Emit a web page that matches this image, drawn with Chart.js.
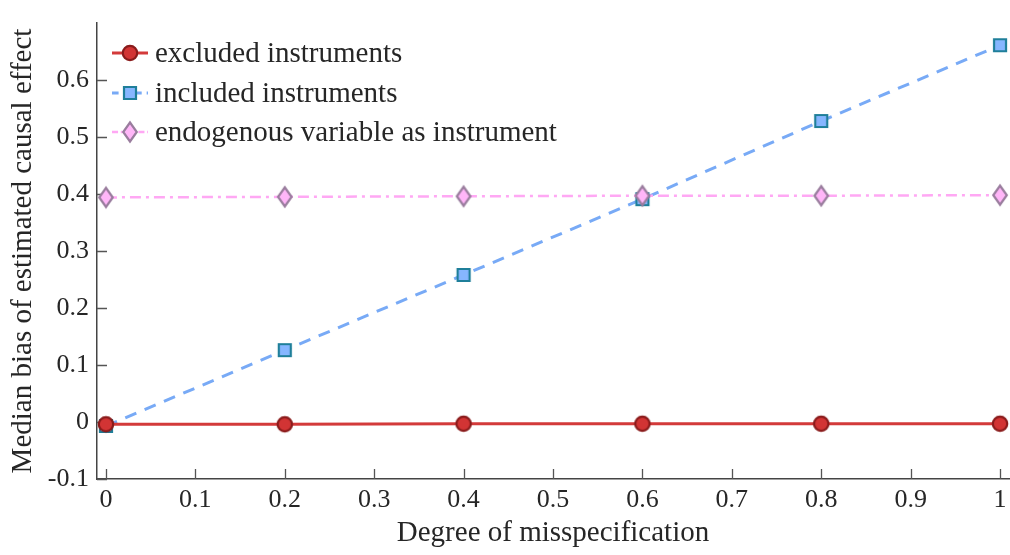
<!DOCTYPE html>
<html><head><meta charset="utf-8">
<script src="https://cdn.jsdelivr.net/npm/chart.js@4/dist/chart.umd.min.js"></script>
<style>html,body{margin:0;padding:0;background:#fff}#wrap{width:1010px;height:555px;position:relative}</style>
</head><body><div id="wrap"><canvas id="c" width="1010" height="555"></canvas></div>
<script>
// ---- data ----
const degrees = [0, 0.2, 0.4, 0.6, 0.8, 1];
const excludedBias = [-0.004, -0.004, -0.003, -0.003, -0.003, -0.003];
const includedBias = [-0.007, 0.126, 0.258, 0.391, 0.528, 0.661];
const endogenousBias = [0.394, 0.395, 0.396, 0.397, 0.397, 0.398];
const seriesNames = ['excluded instruments', 'included instruments', 'endogenous variable as instrument'];
const xTickValues = [0, 0.1, 0.2, 0.3, 0.4, 0.5, 0.6, 0.7, 0.8, 0.9, 1];
const xTickLabels = ['0', '0.1', '0.2', '0.3', '0.4', '0.5', '0.6', '0.7', '0.8', '0.9', '1'];
const yTickValues = [-0.1, 0, 0.1, 0.2, 0.3, 0.4, 0.5, 0.6];
const yTickLabels = ['-0.1', '0', '0.1', '0.2', '0.3', '0.4', '0.5', '0.6'];
const xTitle = 'Degree of misspecification';
const yTitle = 'Median bias of estimated causal effect';

const FONT = '"Liberation Serif", "Times New Roman", serif';
const TXT = '#262626';

function makeMarker(shape, fill, stroke) {
  const c = document.createElement('canvas');
  c.width = 26; c.height = 26;
  const g = c.getContext('2d');
  g.fillStyle = fill; g.strokeStyle = stroke; g.lineWidth = 2.2;
  g.beginPath();
  if (shape === 'circle') {
    g.arc(13, 13, 7.2, 0, Math.PI * 2);
  } else if (shape === 'square') {
    g.rect(7, 7, 12, 12);
  } else {
    g.moveTo(13, 3.5); g.lineTo(19.8, 13); g.lineTo(13, 22.5); g.lineTo(6.2, 13); g.closePath();
  }
  g.fill(); g.stroke();
  return c;
}
const mCircle = makeMarker('circle', '#d23434', '#8a1b1b');
const mSquare = makeMarker('square', '#86b6ff', '#1f7f9a');
const mDiamond = makeMarker('diamond', '#ffb6f8', '#9a7d9e');

const datasets = [
  { label: seriesNames[0], data: degrees.map((x, i) => ({x, y: excludedBias[i]})),
    borderColor: '#d33a3a', borderWidth: 3, pointStyle: mCircle, order: 0 },
  { label: seriesNames[1], data: degrees.map((x, i) => ({x, y: includedBias[i]})),
    borderColor: '#78aaf6', borderWidth: 3, borderDash: [12, 9], pointStyle: mSquare, order: 2 },
  { label: seriesNames[2], data: degrees.map((x, i) => ({x, y: endogenousBias[i]})),
    borderColor: '#ffa8f4', borderWidth: 2.5, borderDash: [11, 5, 3, 5], pointStyle: mDiamond, order: 1 }
];
datasets.forEach(d => { d.showLine = true; d.fill = false; d.tension = 0; d.pointRadius = 8; d.clip = false; });

const inwardTicks = {
  id: 'inwardTicks',
  beforeDatasetsDraw(chart) {
    const {ctx, chartArea: a, scales: {x, y}} = chart;
    ctx.save();
    ctx.strokeStyle = '#555'; ctx.lineWidth = 1.3;
    ctx.beginPath();
    xTickValues.forEach(v => { const px = Math.round(x.getPixelForValue(v)) + 0.5; ctx.moveTo(px, a.bottom); ctx.lineTo(px, a.bottom - 10); });
    yTickValues.forEach(v => { const py = Math.round(y.getPixelForValue(v)) + 0.5; ctx.moveTo(a.left, py); ctx.lineTo(a.left + 10, py); });
    ctx.stroke();
    ctx.restore();
  }
};

const legendPlugin = {
  id: 'mLegend',
  afterDraw(chart) {
    const {ctx} = chart;
    const rows = [53, 93, 132];
    ctx.save();
    chart.data.datasets.forEach((d, i) => {
      const yy = rows[i];
      ctx.strokeStyle = d.borderColor; ctx.lineWidth = d.borderWidth;
      ctx.setLineDash(d.borderDash ? d.borderDash.map(v => v * 0.55) : []);
      ctx.beginPath(); ctx.moveTo(112, yy); ctx.lineTo(148, yy); ctx.stroke();
      ctx.setLineDash([]);
      ctx.drawImage(d.pointStyle, 130 - 13, yy - 13);
      ctx.fillStyle = TXT; ctx.font = '29px ' + FONT; ctx.textBaseline = 'middle'; ctx.textAlign = 'left';
      ctx.fillText(d.label, 155, yy + 1);
    });
    ctx.restore();
  }
};

new Chart(document.getElementById('c'), {
  type: 'scatter',
  data: { datasets },
  options: {
    responsive: false, animation: false, devicePixelRatio: 1,
    layout: { autoPadding: false, padding: { top: 23, right: 1, left: 0, bottom: 0 } },
    plugins: { legend: { display: false }, tooltip: { enabled: false } },
    scales: {
      x: {
        type: 'linear', min: -0.01, max: 1.01,
        afterBuildTicks: s => { s.ticks = xTickValues.map(v => ({value: v})); },
        afterFit: s => { s.height = 76; s.paddingLeft = 0; s.paddingRight = 0; },
        grid: { display: false, drawTicks: false },
        border: { display: true, color: '#444', width: 1.5 },
        ticks: { padding: 6, color: TXT, font: { family: FONT, size: 26 }, maxRotation: 0, autoSkip: false,
                 callback: (v, i) => xTickLabels[i] },
        title: { display: true, text: xTitle, color: TXT, font: { family: FONT, size: 29 }, padding: { top: 0, bottom: 4 } }
      },
      y: {
        type: 'linear', min: -0.1, max: 0.7,
        afterBuildTicks: s => { s.ticks = yTickValues.map(v => ({value: v})); },
        afterFit: s => { s.width = 97; s.paddingTop = 0; s.paddingBottom = 0; },
        grid: { display: false, drawTicks: false },
        border: { display: true, color: '#444', width: 1.5 },
        ticks: { padding: 8, color: TXT, font: { family: FONT, size: 26 }, autoSkip: false,
                 callback: (v, i) => yTickLabels[i] },
        title: { display: true, text: yTitle, color: TXT, font: { family: FONT, size: 29 }, padding: { top: 6, bottom: 0 } }
      }
    }
  },
  plugins: [inwardTicks, legendPlugin]
});
</script>
</body></html>
